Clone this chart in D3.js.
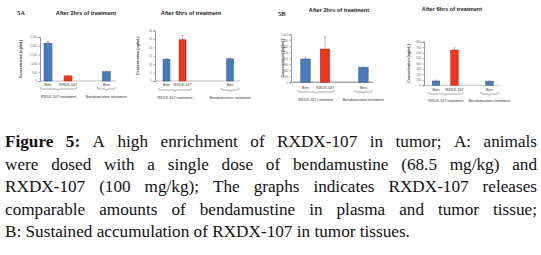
<!DOCTYPE html>
<html>
<head>
<meta charset="utf-8">
<script src="https://cdn.jsdelivr.net/npm/d3@7"></script>
<style>
  body { margin: 0; background: #fff; }
  svg { display: block; }
</style>
</head>
<body>
<svg id="chart" width="541" height="255"></svg>
<script>
// bar categories, same in every panel
const barLabels = ["Ben", "RXDX-107", "Ben"];
const groupLabels = ["RXDX-107 treatment", "Bendamustine treatment"];

// values (ng/mL), with error bar size
const a2hValues = [2150, 290, 530];
const a2hErrors = [80, 40, 30];
const a6hValues = [13, 24.6, 13.2];
const a6hErrors = [0.4, 2.5, 0.4];
const b2hValues = [777, 1110, 500];
const b2hErrors = [55, 410, 15];
const b6hValues = [79, 648, 75];
const b6hErrors = [15, 40, 5];

// y ticks for each panel
const a2hTicks = [0, 500, 1000, 1500, 2000, 2500];
const a6hTicks = [0, 5, 10, 15, 20, 25, 30];
const b2hTicks = [0, 200, 400, 600, 800, 1000, 1200, 1400, 1600];
const b6hTicks = [0, 100, 200, 300, 400, 500, 600, 700, 800];

const captionLines = [
  "A high enrichment of RXDX-107 in tumor; A: animals",
  "were dosed with a single dose of bendamustine (68.5 mg/kg) and",
  "RXDX-107 (100 mg/kg); The graphs indicates RXDX-107 releases",
  "comparable amounts of bendamustine in plasma and tumor tissue;",
  "B: Sustained accumulation of RXDX-107 in tumor tissues."
];

const blue = "#4a7ab8", blueEdge = "#33598e";
const red = "#e8391e", redEdge = "#b52a18";

const svg = d3.select("#chart");

// layout per panel: axis position, plot top/bottom, bar centres (slot 0 and 1), slot of third bar
const panels = [
  { tag: "5A", tagX: 17, tagY: 15, title: "After 2hrs of treatment", titleX: 86, titleY: 15,
    values: a2hValues, errors: a2hErrors, ticks: a2hTicks,
    axisX: 40, top: 37, bottom: 81, c0: 48, c1: 68, slot3: 2.92, barW: 8, ylabX: 22,
    labY: 86, brY: 89, grpY: 98, grey: false },
  { tag: "", title: "After 6hrs of treatment", titleX: 191, titleY: 15,
    values: a6hValues, errors: a6hErrors, ticks: a6hTicks,
    axisX: 155, top: 30.7, bottom: 81, c0: 166.5, c1: 182.5, slot3: 3.97, barW: 7, ylabX: 139,
    labY: 86, brY: 90, grpY: 99, grey: false },
  { tag: "5B", tagX: 278, tagY: 16, title: "After 2hrs of treatment", titleX: 339, titleY: 12,
    values: b2hValues, errors: b2hErrors, ticks: b2hTicks,
    axisX: 291, top: 34.3, bottom: 82.3, c0: 305.5, c1: 325, slot3: 2.97, barW: 9.5, ylabX: 283.5,
    labY: 89, brY: 92, grpY: 101, grey: true },
  { tag: "", title: "After 6hrs of treatment", titleX: 452, titleY: 11,
    values: b6hValues, errors: b6hErrors, ticks: b6hTicks,
    axisX: 424, top: 41.7, bottom: 85.3, c0: 436, c1: 454.5, slot3: 2.89, barW: 7.5, ylabX: 410,
    labY: 91, brY: 94, grpY: 102, grey: false }
];

function bracePath(x1, x2, y) {
  const m = (x1 + x2) / 2;
  return `M${x1},${y - 2} Q${x1},${y} ${x1 + 2},${y} L${m - 1},${y} L${m},${y + 1.5} L${m + 1},${y} L${x2 - 2},${y} Q${x2},${y} ${x2},${y - 2}`;
}

panels.forEach(p => {
  const g = svg.append("g");
  const yMax = p.ticks[p.ticks.length - 1];
  const y = d3.scaleLinear().domain([0, yMax]).range([p.bottom, p.top]);
  const x = d3.scaleLinear().domain([0, 1]).range([p.c0, p.c1]);
  const slots = [0, 1, p.slot3];
  const right = x(p.slot3) + 10;

  if (p.tag) {
    g.append("text").attr("x", p.tagX).attr("y", p.tagY)
      .attr("font-family", "Liberation Serif").attr("font-size", 6.5).attr("font-weight", "bold")
      .attr("fill", "#333").text(p.tag);
  }
  g.append("text").attr("x", p.titleX).attr("y", p.titleY)
    .attr("text-anchor", "middle").attr("font-family", "Liberation Sans")
    .attr("font-size", 5.6).attr("font-weight", "bold").attr("fill", "#222").text(p.title);

  // y axis
  const yAxis = g.append("g").attr("transform", `translate(${p.axisX},0)`)
    .call(d3.axisLeft(y).tickValues(p.ticks).tickSize(1.5).tickPadding(1.5));
  yAxis.select(".domain").attr("stroke", "#555").attr("stroke-width", 0.6);
  yAxis.selectAll(".tick line").attr("stroke", "#555").attr("stroke-width", 0.5);
  yAxis.selectAll("text").attr("font-size", 2.8).attr("fill", "#666").attr("font-family", "Liberation Sans");

  // baseline
  g.append("line").attr("x1", p.axisX).attr("x2", right)
    .attr("y1", p.bottom).attr("y2", p.bottom)
    .attr("stroke", p.grey ? "#aaa" : "#999").attr("stroke-width", p.grey ? 1.6 : 0.6);

  g.append("text")
    .attr("transform", `translate(${p.ylabX},${(p.top + p.bottom) / 2}) rotate(-90)`)
    .attr("text-anchor", "middle").attr("font-family", "Liberation Sans")
    .attr("font-size", 3.6).attr("font-weight", "bold").attr("fill", "#333")
    .text("Concentration (ng/mL)");

  // error bars first so bars sit over them
  g.selectAll(".err").data(p.values).enter().append("g").each(function (d, i) {
    const cx = x(slots[i]);
    const e = d3.select(this);
    e.append("line").attr("x1", cx).attr("x2", cx).attr("y1", y(d)).attr("y2", y(d + p.errors[i]))
      .attr("stroke", "#888").attr("stroke-width", 0.6);
    e.append("line").attr("x1", cx - 1).attr("x2", cx + 1)
      .attr("y1", y(d + p.errors[i])).attr("y2", y(d + p.errors[i]))
      .attr("stroke", "#888").attr("stroke-width", 0.6);
  });

  g.selectAll(".bar").data(p.values).enter().append("rect")
    .attr("x", (d, i) => x(slots[i]) - p.barW / 2)
    .attr("y", d => y(d))
    .attr("width", p.barW)
    .attr("height", d => y(0) - y(d))
    .attr("fill", (d, i) => i === 1 ? red : blue)
    .attr("stroke", (d, i) => i === 1 ? redEdge : blueEdge)
    .attr("stroke-width", 0.5);

  g.selectAll(".lab").data(barLabels).enter().append("text")
    .attr("x", (d, i) => x(slots[i]))
    .attr("y", p.labY)
    .attr("text-anchor", "middle").attr("font-family", "Liberation Sans")
    .attr("font-size", 3.8).attr("fill", "#333").text(d => d);

  // brackets under the groups
  const b1a = x(0) - 8, b1b = x(1) + 9;
  const b2a = x(p.slot3) - 9, b2b = x(p.slot3) + 9;
  [[b1a, b1b], [b2a, b2b]].forEach(b => {
    g.append("path").attr("d", bracePath(b[0], b[1], p.brY))
      .attr("fill", "none").attr("stroke", "#555").attr("stroke-width", 0.5);
  });
  g.append("text").attr("x", (b1a + b1b) / 2).attr("y", p.grpY)
    .attr("text-anchor", "middle").attr("font-family", "Liberation Sans")
    .attr("font-size", 3.8).attr("fill", "#333").text(groupLabels[0]);
  g.append("text").attr("x", x(p.slot3)).attr("y", p.grpY)
    .attr("text-anchor", "middle").attr("font-family", "Liberation Sans")
    .attr("font-size", 3.8).attr("fill", "#333").text(groupLabels[1]);
});

// caption, justified like the page
const capLeft = 5, capRight = 537, capSize = 17.2;
const baselines = [147, 169.5, 192, 214.5, 237];
const cap = svg.append("g").attr("font-family", "Liberation Serif").attr("font-size", capSize).attr("fill", "#111");

captionLines.forEach((line, li) => {
  const words = line.split(" ");
  const items = [];
  if (li === 0) items.push({ t: "Figure", bold: true }, { t: "5:", bold: true });
  words.forEach(w => items.push({ t: w, bold: false }));
  const nodes = items.map(it => cap.append("text").attr("y", baselines[li])
    .attr("font-weight", it.bold ? "bold" : "normal").text(it.t));
  const widths = nodes.map(n => n.node().getComputedTextLength());
  const total = d3.sum(widths);
  const last = li === captionLines.length - 1;
  const gap = last ? capSize * 0.25 : (capRight - capLeft - total) / (items.length - 1);
  let cx = capLeft;
  nodes.forEach((n, i) => { n.attr("x", cx); cx += widths[i] + gap; });
});
</script>
</body>
</html>
